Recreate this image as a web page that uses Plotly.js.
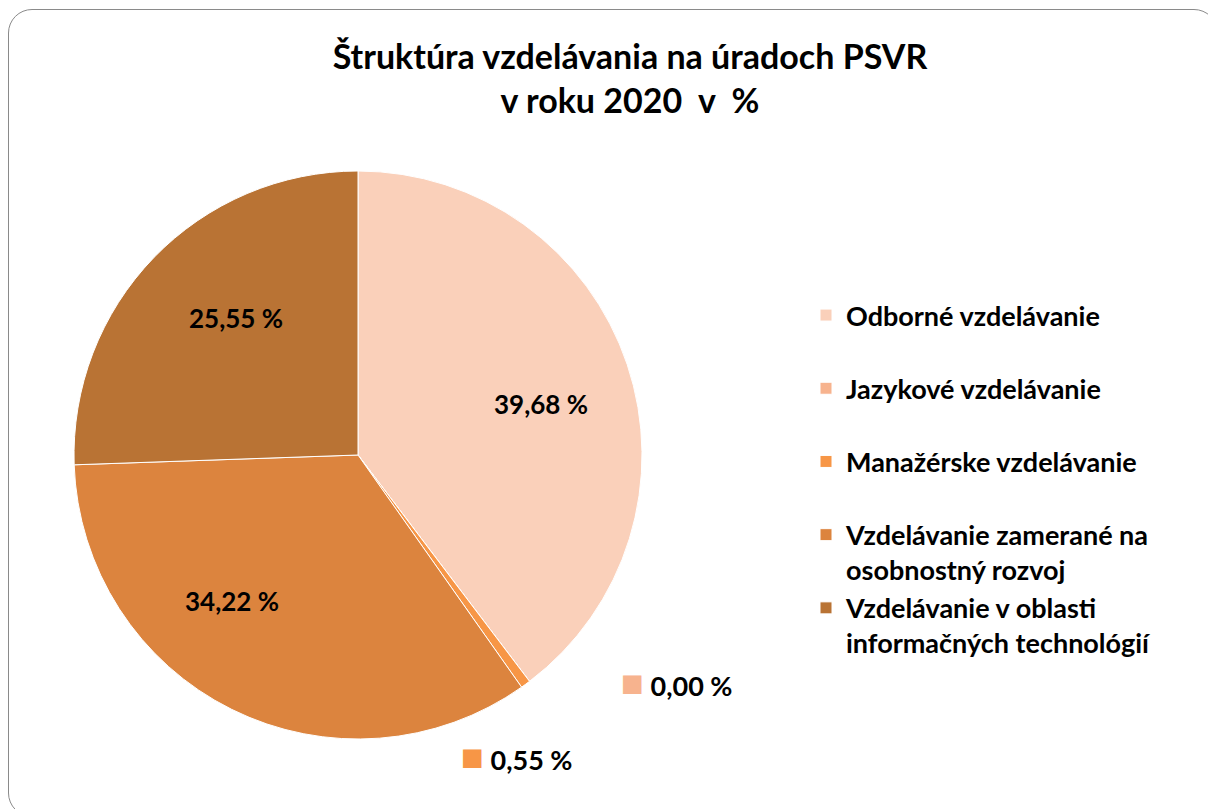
<!DOCTYPE html>
<html>
<head>
<meta charset="utf-8">
<script src="https://cdn.plot.ly/plotly-3.0.1.min.js"></script>
<style>
  html, body { margin: 0; padding: 0; background: #ffffff; }
  #wrap { position: relative; width: 1208px; height: 809px; }
  #chart { position: absolute; left: 0; top: 0; width: 1208px; height: 809px; }
  #frame { position: absolute; left: 8px; top: 9px; width: 1210px; height: 808px;
           border: 1.5px solid #8a8a8a; border-radius: 24px; pointer-events: none; box-sizing: border-box; }
</style>
</head>
<body>
<div id="wrap">
  <div id="chart"></div>
  <div id="frame"></div>
</div>
<script>
const categories = [
  "Odborné vzdelávanie",
  "Jazykové vzdelávanie",
  "Manažérske vzdelávanie",
  "Vzdelávanie zamerané na<br>osobnostný rozvoj",
  "Vzdelávanie v oblasti<br>informačných technológií"
];
const values = [39.68, 0.00, 0.55, 34.22, 25.55];
const colors = ["#FAD0BA", "#F7B38E", "#F79646", "#DC843E", "#B97334"];
const outsideLabel = [false, true, true, false, false];

const fmt = v => v.toFixed(2).replace(".", ",") + " %";
const FONT = "Lato, 'Open Sans', sans-serif";

// layout geometry (pixels)
const W = 1208, H = 809;
const CX = 358, CY = 455, R = 284;
// data-label anchor positions, as placed in the original (pixels)
const labelPos = [
  { x: 541, y: 404 },
  { x: 619, y: 681 },
  { x: 459, y: 755 },
  { x: 232, y: 601 },
  { x: 236, y: 318 }
];

const legendLabels = categories.map(c => c.includes("<br>") ? c : c + "<br> ");

const trace = {
  type: "pie",
  labels: legendLabels,
  values: values,
  sort: false,
  direction: "clockwise",
  rotation: 0,
  marker: { colors: colors, line: { color: "#ffffff", width: 1 } },
  textinfo: "none",
  hoverinfo: "label+percent",
  domain: { x: [(CX - R) / W, (CX + R) / W], y: [1 - (CY + R) / H, 1 - (CY - R) / H] }
};

const annotations = values.map((v, i) => {
  const p = labelPos[i];
  if (outsideLabel[i]) {
    return {
      xref: "paper", yref: "paper", x: p.x / W, y: 1 - p.y / H,
      xanchor: "left", yanchor: "middle", showarrow: false,
      text: `<span style="color:${colors[i]};font-size:38px">■</span> ${fmt(v)}`,
      font: { family: FONT, size: 27, color: "#000000", weight: "bold" }
    };
  }
  return {
    xref: "paper", yref: "paper", x: p.x / W, y: 1 - p.y / H,
    xanchor: "center", yanchor: "middle", showarrow: false,
    text: fmt(v),
    font: { family: FONT, size: 26, color: "#000000", weight: "bold" }
  };
});

const layout = {
  width: W, height: H,
  margin: { l: 0, r: 0, t: 0, b: 0 },
  paper_bgcolor: "rgba(0,0,0,0)",
  plot_bgcolor: "rgba(0,0,0,0)",
  title: {
    text: "<b>Štruktúra vzdelávania na úradoch PSVR<br>v roku 2020  v  %</b>",
    font: { family: FONT, size: 34, color: "#000000" },
    x: 630 / W, xanchor: "center",
    y: 1 - 69 / H, yanchor: "top"
  },
  legend: {
    x: 806 / W, xanchor: "left",
    y: 1 - 291 / H, yanchor: "top",
    valign: "top",
    font: { family: FONT, size: 27, color: "#000000", weight: "bold" },
    bgcolor: "rgba(0,0,0,0)"
  },
  annotations: annotations,
  showlegend: true
};

Plotly.newPlot("chart", [trace], layout, { displayModeBar: false });
</script>
</body>
</html>
